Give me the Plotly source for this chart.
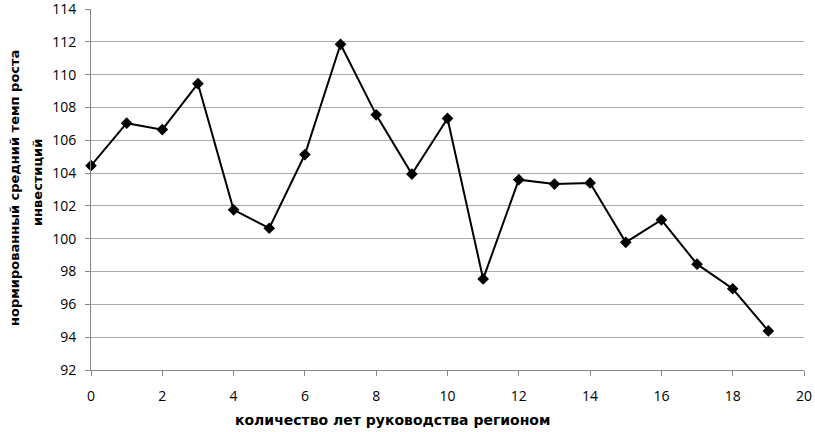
import plotly.graph_objects as go

years = list(range(20))
growth = [104.45, 107.04, 106.65, 109.45, 101.76, 100.64, 105.13, 111.85, 107.55, 103.94,
          107.33, 97.55, 103.6, 103.33, 103.4, 99.78, 101.15, 98.45, 96.95, 94.38]

x_title = "количество лет руководства регионом"
y_title_1 = "нормированный средний темп роста"
y_title_2 = "инвестиций"

L, R, T, B = 91, 11, 9, 62
W, H = 815, 432
pw = W - L - R
ph = H - T - B

fig = go.Figure()
fig.add_trace(go.Scatter(
    x=years, y=growth, mode="lines+markers",
    line=dict(color="black", width=2),
    marker=dict(symbol="diamond", size=9, color="black"),
    showlegend=False, cliponaxis=False,
))

font_family = "Open Sans, Liberation Sans, sans-serif"
title_font_y = dict(family="DejaVu Sans, sans-serif", size=13, color="black", weight="bold")
title_font_x = dict(family="DejaVu Sans, sans-serif", size=14, color="black", weight="bold")
fig.update_layout(
    width=W, height=H,
    margin=dict(l=L, r=R, t=T, b=B, autoexpand=False),
    plot_bgcolor="white", paper_bgcolor="white",
    font=dict(family=font_family, size=14, color="black"),
)
fig.update_xaxes(
    range=[0, 20], dtick=2, tick0=0,
    showgrid=False, showline=True, linecolor="#868686", linewidth=1,
    ticks="outside", tickcolor="#868686", ticklen=5,
    zeroline=False, automargin=False, ticklabeloverflow="allow",
    ticklabelstandoff=8,
    tickfont=dict(size=14),
)
fig.update_yaxes(
    range=[92, 114], dtick=2, tick0=92,
    showgrid=True, gridcolor="#ababab", gridwidth=1,
    showline=True, linecolor="#868686", linewidth=1,
    ticks="outside", tickcolor="#868686", ticklen=5,
    zeroline=False, automargin=False, ticklabeloverflow="allow",
    ticklabelstandoff=6,
    tickfont=dict(size=14),
)
fig.add_annotation(text=x_title, xref="paper", yref="paper",
                   x=(392 - L) / pw, y=-(420 - (T + ph)) / ph,
                   xanchor="center", yanchor="middle", showarrow=False,
                   font=title_font_x)
fig.add_annotation(text=y_title_1, xref="paper", yref="paper",
                   x=(15 - L) / pw, y=1 - (188 - T) / ph, textangle=-90,
                   xanchor="center", yanchor="middle", showarrow=False,
                   font=title_font_y)
fig.add_annotation(text=y_title_2, xref="paper", yref="paper",
                   x=(37 - L) / pw, y=1 - (183 - T) / ph, textangle=-90,
                   xanchor="center", yanchor="middle", showarrow=False,
                   font=title_font_y)
fig.write_html("out.html",
               config={"displayModeBar": False},
               post_script="document.body.style.margin='0';document.body.style.padding='0';"
                           "document.body.style.overflow='hidden';")
